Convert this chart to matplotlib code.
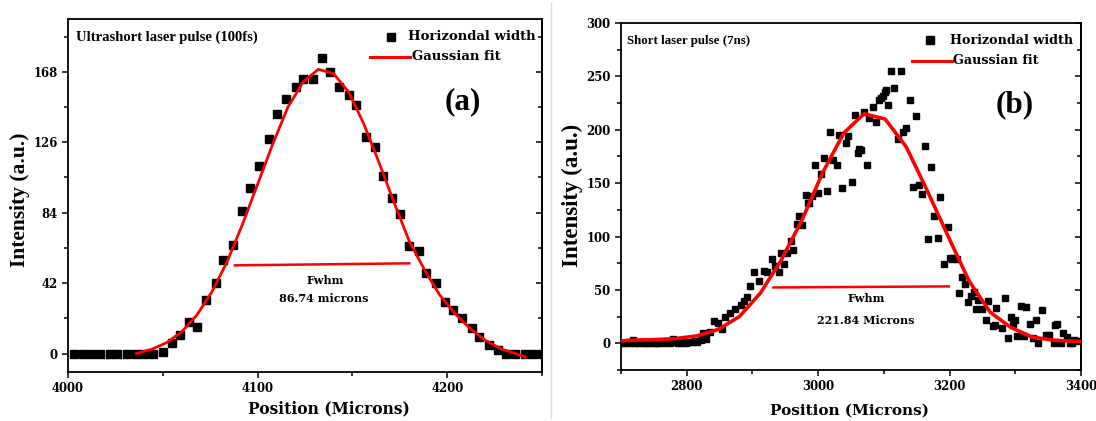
import matplotlib
matplotlib.use("Agg")
import matplotlib.pyplot as plt
from matplotlib.ticker import MultipleLocator
from matplotlib.lines import Line2D

# ---------------- data: panel (a) ----------------
a_pos = [4003, 4008, 4012, 4017, 4022, 4026, 4031, 4036, 4040, 4045,
         4050, 4055, 4059, 4064, 4068, 4073, 4078, 4082, 4087, 4092,
         4096, 4101, 4106, 4110, 4115, 4120, 4124, 4129, 4134, 4138,
         4143, 4148, 4152, 4157, 4162, 4166, 4171, 4175, 4180, 4185,
         4189, 4194, 4199, 4203, 4208, 4213, 4217, 4222, 4227, 4231,
         4236, 4241, 4245, 4250]
a_int = [0, 0, 0, 0, 0, 0, 0, 0, 0, 0,
         1, 6, 11, 19, 16, 32, 42, 56, 65, 85,
         99, 112, 128, 143, 152, 159, 164, 164, 176, 168,
         159, 154, 148, 129, 123, 106, 93, 83, 64, 61,
         48, 42, 31, 26, 21, 15, 10, 5, 2, 0,
         0, 0, 0, 0]
a_fit_x = [4036, 4044, 4052, 4060, 4068, 4076, 4084, 4092, 4100, 4108,
           4116, 4124, 4132, 4140, 4148, 4156, 4164, 4172, 4180, 4188,
           4196, 4204, 4212, 4220, 4228, 4236, 4241]
a_fit_y = [0, 2.5, 6.5, 13, 23, 37, 55, 77, 101, 125,
           147, 162, 169.5, 167, 156, 137, 114, 90, 67, 50,
           35, 24, 15, 8, 3, 0, -2]
a_fwhm_x = [4088, 4180]
a_fwhm_y = [52.6, 53.8]

# ---------------- data: panel (b) ----------------
b_pos = [2702, 2706, 2710, 2714, 2718, 2722, 2726, 2730, 2734, 2738,
         2742, 2746, 2750, 2754, 2758, 2762, 2766, 2770, 2774, 2779,
         2783, 2787, 2791, 2795, 2799, 2803, 2808, 2812, 2816, 2821,
         2825, 2830, 2836, 2841, 2848, 2853, 2859, 2866, 2874, 2882,
         2887, 2892, 2897, 2902, 2910, 2917, 2922, 2930, 2935, 2940,
         2943, 2948, 2953, 2958, 2962, 2968, 2971, 2976, 2981, 2984,
         2986, 2991, 2995, 3000, 3004, 3009, 3013, 3018, 3023, 3028,
         3032, 3037, 3042, 3046, 3051, 3056, 3060, 3062, 3065, 3070,
         3074, 3078, 3084, 3088, 3093, 3095, 3098, 3101, 3103, 3107,
         3111, 3116, 3121, 3126, 3129, 3134, 3140, 3144, 3149, 3154,
         3158, 3163, 3167, 3171, 3177, 3182, 3186, 3191, 3197, 3200,
         3203, 3207, 3211, 3214, 3219, 3224, 3228, 3232, 3237, 3240,
         3243, 3249, 3256, 3258, 3266, 3269, 3271, 3280, 3284, 3289,
         3293, 3297, 3299, 3303, 3308, 3313, 3317, 3322, 3327, 3331,
         3335, 3341, 3346, 3352, 3359, 3361, 3364, 3370, 3373, 3378,
         3383, 3386, 3390, 3396]
b_int = [0, 0, 1, 0, 3, 0, 0, 1, 0, 0,
         0, 1, 0, 0, 0, 1, 0, 1, 0, 4,
         1, 0, 0, 1, 0, 1, 1, 2, 1, 3,
         10, 4, 11, 21, 19, 13, 25, 28, 32, 36,
         40, 43, 54, 67, 58, 68, 67, 79, 72, 67,
         85, 74, 85, 96, 87, 112, 119, 111, 139, 131,
         131, 138, 167, 141, 159, 174, 143, 198, 172, 167,
         195, 145, 188, 194, 151, 214, 178, 182, 181, 217,
         167, 211, 221, 207, 228, 230, 232, 235, 237, 223,
         255, 239, 191, 255, 198, 202, 228, 146, 213, 148,
         140, 185, 98, 165, 119, 99, 137, 74, 109, 80,
         79, 80, 79, 47, 62, 56, 39, 44, 48, 32,
         41, 32, 22, 40, 16, 17, 33, 14, 42, 5,
         25, 18, 22, 7, 35, 7, 34, 18, 5, 22,
         0, 31, 8, 8, 0, 17, 18, 0, 10, 6,
         0, 0, 3, 2]
b_fit_x = [2700, 2720, 2752, 2784, 2816, 2848, 2880, 2912, 2943, 2975,
           3007, 3039, 3070, 3102, 3134, 3166, 3198, 3230, 3262, 3293,
           3325, 3357, 3389, 3400]
b_fit_y = [2.2, 3, 3.5, 4.5, 7, 13, 25, 47, 77, 115,
           160, 197, 215, 210, 184, 143, 100, 58, 29, 15,
           6, 3, 2, 2]
b_fwhm_x = [2932, 3199]
b_fwhm_y = [52.3, 53.3]

W, H = 1096, 421
fig = plt.figure(figsize=(W / 100, H / 100), dpi=100)
fig.patch.set_facecolor("white")

SERIF_C = ["DejaVu Serif"]
SERIF_T = ["Liberation Serif"]


def fx(px):
    return px / W


def fy(py):
    return 1 - py / H


def style_axes(ax):
    for s in ax.spines.values():
        s.set_linewidth(1.3)
    ax.tick_params(which="both", direction="out", length=4, width=1.1,
                   labelsize=8.4, top=False, right=False)
    ax.tick_params(which="minor", length=3)
    for lab in ax.get_xticklabels() + ax.get_yticklabels():
        lab.set_fontfamily(SERIF_C)
        lab.set_fontweight("bold")


# ---------------- panel (a) ----------------
axa = fig.add_axes([fx(68), fy(372), fx(542) - fx(68), fy(19) - fy(372)])
axa.plot(a_pos, a_int, "s", color="black", ms=5.3, zorder=3)
axa.plot(a_fit_x, a_fit_y, "-", color="#ff0000", lw=2.0, zorder=4)
axa.plot(a_fwhm_x, a_fwhm_y, "-", color="#ff0000", lw=1.8, zorder=4)
axa.set_xlim(4000, 4250)
axa.set_ylim(-11, 199.5)
axa.set_xticks([4000, 4100, 4200])
axa.set_yticks([0, 42, 84, 126, 168])
axa.xaxis.set_minor_locator(MultipleLocator(50))
axa.yaxis.set_minor_locator(MultipleLocator(21))
style_axes(axa)

# ---------------- panel (b) ----------------
axb = fig.add_axes([fx(621), fy(370), fx(1081) - fx(621), fy(23) - fy(370)])
axb.plot(b_pos, b_int, "s", color="black", ms=5.0, zorder=3)
axb.plot(b_fit_x, b_fit_y, "-", color="#ff0000", lw=2.6, zorder=4)
axb.plot(b_fwhm_x, b_fwhm_y, "-", color="#ff0000", lw=1.8, zorder=4)
axb.set_xlim(2700, 3400)
axb.set_ylim(-25, 300)
axb.set_xticks([2800, 3000, 3200, 3400])
axb.set_yticks([0, 50, 100, 150, 200, 250, 300])
axb.xaxis.set_minor_locator(MultipleLocator(100))
axb.yaxis.set_minor_locator(MultipleLocator(25))
style_axes(axb)

# inward ticks on right spine
for ax in (axa, axb):
    sec = ax.secondary_yaxis("right")
    sec.set_yticks(ax.get_yticks())
    sec.yaxis.set_minor_locator(ax.yaxis.get_minor_locator())
    sec.tick_params(which="both", direction="in", length=4, width=1.1,
                    labelright=False)
    sec.tick_params(which="minor", length=3)
    sec.spines["right"].set_linewidth(1.3)

# ---------------- texts ----------------
fig.text(fx(76), fy(37), "Ultrashort laser pulse (100fs)", family=SERIF_T,
         weight="bold", fontsize=10.5, ha="left", va="center")
fig.text(fx(627), fy(41), "Short laser pulse (7ns)", family=SERIF_T,
         weight="bold", fontsize=9.3, ha="left", va="center")
fig.text(fx(463), fy(102), "(a)", family=SERIF_T, weight="bold",
         fontsize=22.5, ha="center", va="center")
fig.text(fx(1015), fy(105), "(b)", family=SERIF_T, weight="bold",
         fontsize=22.5, ha="center", va="center")

fig.text(fx(20), fy(200), "Intensity (a.u.)", family=SERIF_T, weight="bold",
         fontsize=15.5, rotation=90, ha="center", va="center")
fig.text(fx(572), fy(195), "Intensity (a.u.)", family=SERIF_T, weight="bold",
         fontsize=16.5, rotation=90, ha="center", va="center")
fig.text(fx(329), fy(409), "Position (Microns)", family=SERIF_C,
         weight="bold", fontsize=11.2, ha="center", va="center")
fig.text(fx(850), fy(411), "Position (Microns)", family=SERIF_C,
         weight="bold", fontsize=11.0, ha="center", va="center")

fig.text(fx(325), fy(281), "Fwhm", family=SERIF_C, weight="bold",
         fontsize=8, ha="center", va="center")
fig.text(fx(324), fy(298), "86.74 microns", family=SERIF_C, weight="bold",
         fontsize=8, ha="center", va="center")
fig.text(fx(866), fy(299), "Fwhm", family=SERIF_C, weight="bold",
         fontsize=8, ha="center", va="center")
fig.text(fx(866), fy(321), "221.84 Microns", family=SERIF_C, weight="bold",
         fontsize=8, ha="center", va="center")


# ---------------- legends (manual, figure coords) ----------------
def legend(sq_px, sq_py, line_x0, line_x1, line_py, t1x, t2x, fs):
    fig.add_artist(Line2D([fx(sq_px)], [fy(sq_py)], marker="s", color="black",
                          ms=5.3, ls="none"))
    fig.add_artist(Line2D([fx(line_x0), fx(line_x1)], [fy(line_py)] * 2,
                          color="#ff0000", lw=2.2))
    fig.text(fx(t1x), fy(sq_py), "Horizondal width", family=SERIF_C,
             weight="bold", fontsize=fs, ha="left", va="center")
    fig.text(fx(t2x), fy(line_py), "Gaussian fit", family=SERIF_C,
             weight="bold", fontsize=fs, ha="left", va="center")


legend(391, 37, 370, 410, 57, 408, 412, 9.5)
legend(930, 40, 912, 952, 60.5, 950, 953, 9.2)

# faint divider between panels
fig.add_artist(Line2D([fx(551), fx(551)], [fy(3), fy(418)], color="#d8d8d8",
                      lw=1.0))

fig.savefig("out.png", dpi=100, facecolor="white")
